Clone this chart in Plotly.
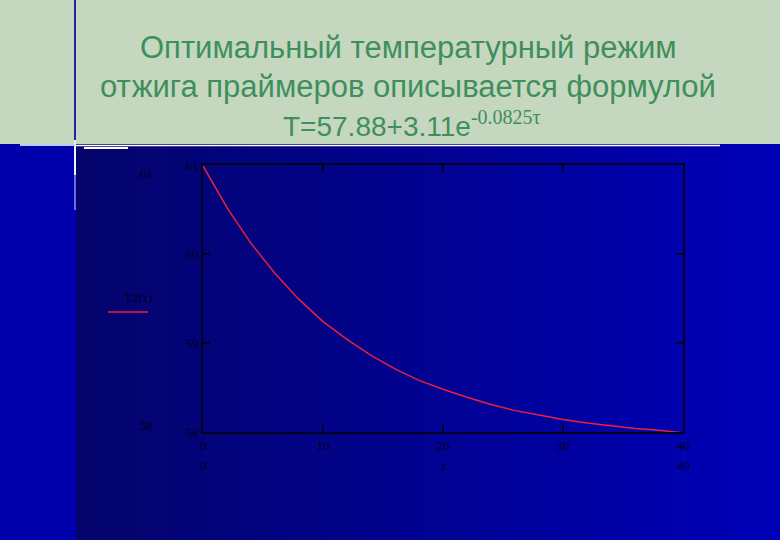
import plotly.graph_objects as go

# ---- data ----
tau = [0, 2, 4, 6, 8, 10, 12, 14, 16, 18, 20, 22, 24, 26, 28, 30, 32, 34, 36, 38, 40]
T2 = [60.99, 60.52, 60.12, 59.78, 59.49, 59.24, 59.04, 58.86, 58.71, 58.58, 58.48,
      58.39, 58.31, 58.24, 58.19, 58.14, 58.10, 58.07, 58.04, 58.02, 57.99]
x_ticks = [0, 10, 20, 30, 40]
y_ticks = [58, 59, 60, 61]
title_lines = ["Оптимальный температурный режим",
               "отжига праймеров описывается формулой"]
formula_main = "T=57.88+3.11e"
formula_exp = "-0.0825τ"
legend_label = "T2(τ)"

W, H = 780, 540
L, R, TOP, BOT = 203, 683, 165, 432


def px(x):
    return (x - L) / (R - L)


def py(y):
    return (BOT - y) / (BOT - TOP)


shapes = []
# left strip
shapes.append(dict(type="rect", xref="paper", yref="paper", x0=px(0), x1=px(76),
                   y0=py(H), y1=py(0), fillcolor="#0000ac", line_width=0, layer="below"))
# gradient background
n = 60
c0 = (0x04, 0x04, 0x6c)
c1 = (0x00, 0x00, 0xb8)
for i in range(n):
    xa = 76 + (W - 76) * i / n
    xb = 76 + (W - 76) * (i + 1) / n + 0.5
    f = i / (n - 1)
    col = "rgb(%d,%d,%d)" % tuple(round(a + (b - a) * f) for a, b in zip(c0, c1))
    shapes.append(dict(type="rect", xref="paper", yref="paper", x0=px(xa), x1=px(xb),
                       y0=py(H), y1=py(0), fillcolor=col, line_width=0, layer="below"))
# header
shapes.append(dict(type="rect", xref="paper", yref="paper", x0=px(0), x1=px(W),
                   y0=py(144), y1=py(0), fillcolor="#c6d7c0", line_width=0, layer="below"))
# white rule under header
shapes.append(dict(type="line", xref="paper", yref="paper", x0=px(76), x1=px(720),
                   y0=py(145.5), y1=py(145.5), line=dict(color="#ffffff", width=1.5), layer="below"))
shapes.append(dict(type="line", xref="paper", yref="paper", x0=px(84), x1=px(128),
                   y0=py(148), y1=py(148), line=dict(color="#ffffff", width=2), layer="below"))
# vertical line
shapes.append(dict(type="line", xref="paper", yref="paper", x0=px(75), x1=px(75),
                   y0=py(0), y1=py(140), line=dict(color="#1a2a9a", width=2), layer="below"))
shapes.append(dict(type="line", xref="paper", yref="paper", x0=px(75), x1=px(75),
                   y0=py(140), y1=py(175), line=dict(color="#f0f0ff", width=2), layer="below"))
shapes.append(dict(type="line", xref="paper", yref="paper", x0=px(75), x1=px(75),
                   y0=py(175), y1=py(210), line=dict(color="#6070e0", width=2), layer="below"))
shapes.append(dict(type="line", xref="paper", yref="paper", x0=px(20), x1=px(75),
                   y0=py(145), y1=py(145), line=dict(color="#c0c8ff", width=2), layer="below"))
# legend sample line
shapes.append(dict(type="line", xref="paper", yref="paper", x0=px(108), x1=px(148),
                   y0=py(312), y1=py(312), line=dict(color="#e8203a", width=1.5)))

serif = "Liberation Serif, Times New Roman, serif"
lab_col = "#000020"
annotations = []
title_font = dict(family="Liberation Sans, Arial, sans-serif", size=31, color="#3f8f5c")
for txt, yy in zip(title_lines, [47, 87]):
    annotations.append(dict(text=txt, xref="paper", yref="paper", x=px(408), y=py(yy),
                            xanchor="center", yanchor="middle", showarrow=False, font=title_font))
annotations.append(dict(
    text=formula_main + "<sup><span style='font-family:Liberation Serif;font-size:20px'>"
    + formula_exp + "</span></sup>",
    xref="paper", yref="paper", x=px(412), y=py(124), xanchor="center", yanchor="middle",
    showarrow=False, font=dict(family=title_font["family"], size=28, color="#3f8f5c")))

small = dict(family=serif, size=13, color=lab_col)
for txt, xx, yy in [("61", 146, 173), ("58", 146, 425), (legend_label, 138, 297),
                    ("0", 203, 465), ("τ", 443, 465), ("40", 683, 465)]:
    annotations.append(dict(text=txt, xref="paper", yref="paper", x=px(xx), y=py(yy),
                            xanchor="center", yanchor="middle", showarrow=False, font=small))

fig = go.Figure()
fig.add_trace(go.Scatter(x=tau, y=T2, mode="lines", line=dict(color="#e8203a", width=1.5),
                         showlegend=False, hoverinfo="skip"))
fig.update_layout(
    width=W, height=H, margin=dict(l=L, r=W - R, t=TOP, b=H - BOT),
    paper_bgcolor="#00008c", plot_bgcolor="rgba(0,0,0,0)",
    shapes=shapes, annotations=annotations, showlegend=False,
    xaxis=dict(range=[0, 40], tickvals=x_ticks, ticktext=[str(v) for v in x_ticks],
               showgrid=False, zeroline=False, showline=True, linecolor="#000020",
               linewidth=2, mirror="ticks", ticks="inside", ticklen=7, tickwidth=1.5,
               tickcolor="#000020", tickfont=small),
    yaxis=dict(range=[58, 61], tickvals=y_ticks, ticktext=[str(v) for v in y_ticks],
               showgrid=False, zeroline=False, showline=True, linecolor="#000020",
               linewidth=2, mirror="ticks", ticks="inside", ticklen=7, tickwidth=1.5,
               tickcolor="#000020", tickfont=small),
)
fig.write_html("out.html", config={"displayModeBar": False, "staticPlot": True},
               post_script="document.body.style.margin='0';document.body.style.overflow='hidden';")
